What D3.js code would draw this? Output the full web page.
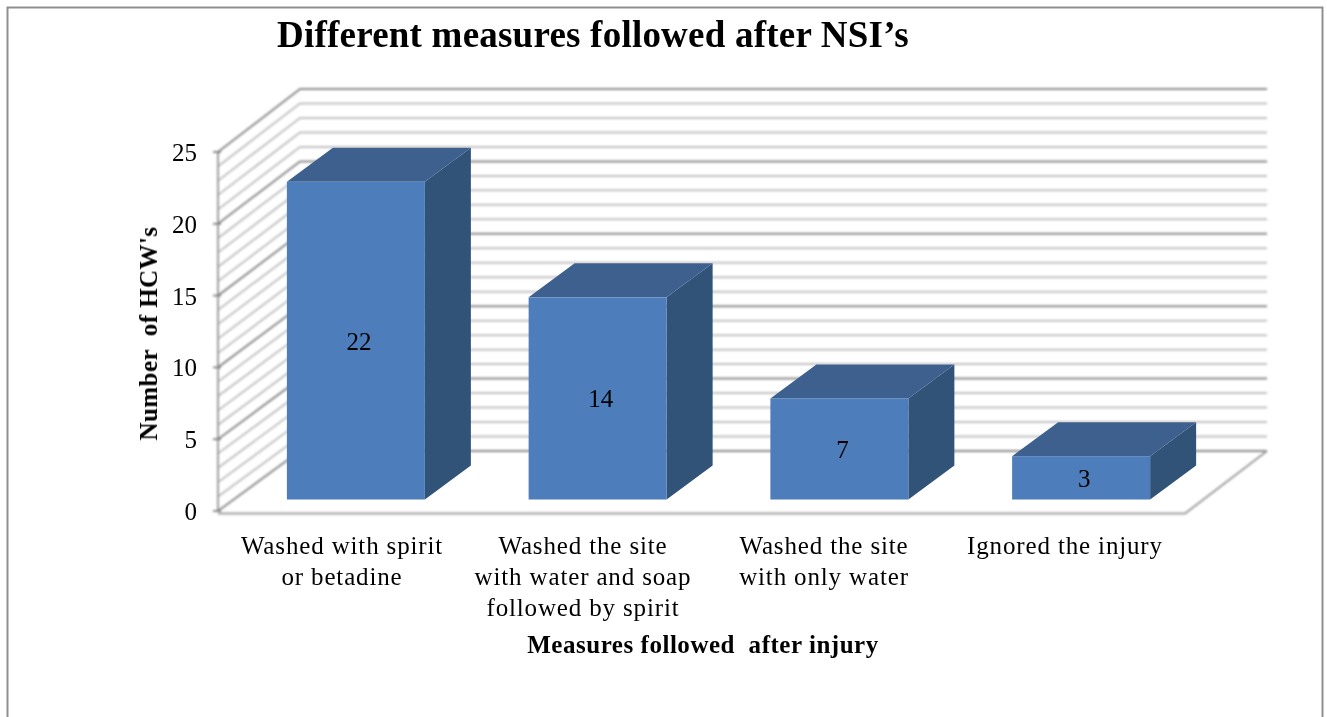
<!DOCTYPE html>
<html><head><meta charset="utf-8">
<script src="https://cdn.jsdelivr.net/npm/d3@7"></script>
<style>html,body{margin:0;padding:0;background:#fff;overflow:hidden}
text{font-family:"Liberation Serif",serif;fill:#000}</style></head>
<body><svg id="c" width="1327" height="717"></svg>
<script>
const categories = ["Washed with spirit or betadine","Washed the site with water and soap followed by spirit","Washed the site with only water","Ignored the injury"];
const values = [22,14,7,3];
const categoryLines = [["Washed with spirit","or betadine"],["Washed the site","with water and soap","followed by spirit"],["Washed the site","with only water"],["Ignored the injury"]];
const yTicks = [0,5,10,15,20,25];
const titleText = "Different measures followed after NSI\u2019s";
const yTitle = "Number  of HCW's";
const xTitle = "Measures followed  after injury";

const svg = d3.select("#c");
const defs = svg.append("defs");
[["soft",0.8],["softBar",0.5],["softText",0.3]].forEach(([id,s])=>{
  defs.append("filter").attr("id",id).attr("filterUnits","userSpaceOnUse")
    .attr("x",0).attr("y",0).attr("width",1327).attr("height",717)
    .append("feGaussianBlur").attr("stdDeviation",s);
});

// frame (no bottom edge visible)
svg.append("path").attr("d","M7.5,717V7.5H1322.5V717").attr("fill","none").attr("stroke","#8f8f8f").attr("stroke-width",2);

const yFront = d3.scaleLinear().domain([0,25]).range([511,152]);
const yBack = d3.scaleLinear().domain([0,25]).range([451,89]);
const yBar = d3.scaleLinear().domain([0,25]).range([499.5,138.5]);
const xFront = 218, xBack = 300, xBackEnd = 1267, xFloorEnd = 1185;
const x = d3.scaleBand().domain(categories).range([287-52,1012+138+52]).paddingInner(0).paddingOuter(0);
const barW = 138, barDx = 46, barDy = 34;

const grid = svg.append("g").attr("filter","url(#soft)").attr("fill","none");
const units = d3.range(0,26);
grid.selectAll("path.g").data(units).join("path").attr("class","g")
  .attr("d",v=>`M${xFront},${yFront(v)}L${xBack},${yBack(v)}H${xBackEnd}`)
  .attr("stroke",v=>v%5===0?"#8c8c8c":"#c2c2c2")
  .attr("stroke-width",2);
// floor
grid.append("path").attr("d",`M${xBackEnd},${yBack(0)}L${xFloorEnd},513.5H${xFront}`).attr("stroke","#9c9c9c").attr("stroke-width",2);
// y axis
grid.append("path").attr("d",`M${xFront},${yFront(0)}V${yFront(25)}`).attr("stroke","#939393").attr("stroke-width",1.8);
grid.selectAll("path.t").data(yTicks).join("path").attr("class","t")
  .attr("d",v=>`M${xFront-5},${yFront(v)}h8`).attr("stroke","#808080").attr("stroke-width",1.8);

// bars
const bars = svg.append("g").attr("filter","url(#softBar)");
const barX = d => x(categories[d]) + (x.bandwidth()-barW)/2;
const idx = d3.range(values.length);
bars.selectAll("path.side").data(idx).join("path").attr("class","side").attr("fill","#315278")
  .attr("d",i=>{const r=barX(i)+barW,t=yBar(values[i]),b=yBar(0);
    return `M${r},${t}l${barDx},${-barDy}V${b-barDy}L${r},${b}Z`;});
bars.selectAll("path.top").data(idx).join("path").attr("class","top").attr("fill","#3c618e")
  .attr("d",i=>{const l=barX(i),t=yBar(values[i]);
    return `M${l},${t}l${barDx},${-barDy}h${barW}l${-barDx},${barDy}Z`;});
bars.selectAll("rect").data(idx).join("rect").attr("fill","#4d7ebb")
  .attr("x",barX).attr("width",barW)
  .attr("y",i=>yBar(values[i])).attr("height",i=>yBar(0)-yBar(values[i]));

const labels = svg.append("g").attr("filter","url(#softText)");

// value labels
labels.selectAll("text.v").data(idx).join("text").attr("class","v")
  .attr("x",i=>barX(i)+barW/2+3).attr("y",i=>(yBar(0)+yBar(values[i]))/2+9)
  .attr("text-anchor","middle").style("font-size","25px").text(i=>values[i]);

// y tick labels
labels.selectAll("text.yt").data(yTicks).join("text").attr("class","yt")
  .attr("x",197).attr("y",v=>yFront(v)+9).attr("text-anchor","end").style("font-size","25px").text(v=>v);

// category labels
const labelCx = [342,583,824,1065];
idx.forEach(i=>{
  categoryLines[i].forEach((ln,j)=>{
    labels.append("text").attr("x",labelCx[i]).attr("y",554+j*31).attr("text-anchor","middle")
      .style("font-size","25px").style("letter-spacing","0.85px").text(ln);
  });
});

labels.append("text").attr("x",593).attr("y",47).attr("text-anchor","middle")
  .style("font-size","37px").style("font-weight","bold").style("letter-spacing","0.22px").text(titleText);
labels.append("text").attr("x",703).attr("y",653).attr("text-anchor","middle")
  .style("font-size","25px").style("font-weight","bold").style("letter-spacing","0.53px").style("white-space","pre").text(xTitle);
labels.append("text").attr("transform","translate(157,333.5) rotate(-90)").attr("text-anchor","middle")
  .style("font-size","25px").style("font-weight","bold").style("letter-spacing","0.42px").style("white-space","pre").text(yTitle);
</script></body></html>
